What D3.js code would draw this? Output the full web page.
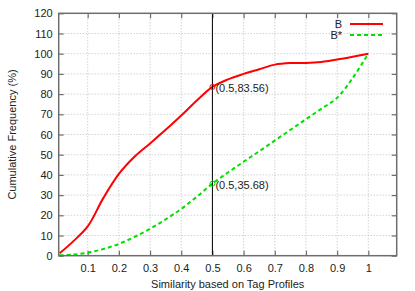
<!DOCTYPE html>
<html>
<head>
<meta charset="utf-8">
<script src="https://cdn.jsdelivr.net/npm/d3@7"></script>
<style>
  body { margin: 0; background: #fff; }
  svg text { font-family: "Liberation Sans", Arial, sans-serif; font-size: 11px; fill: #222; }
</style>
</head>
<body>
<svg class="cdf" width="415" height="291"></svg>
<script>
// Cumulative frequency of similarity for B and B*
var xValues = [0.01, 0.05, 0.1, 0.15, 0.2, 0.25, 0.3, 0.35, 0.4, 0.45, 0.5, 0.55, 0.6, 0.65, 0.7, 0.75, 0.8, 0.85, 0.9, 0.95, 1.0];
var seriesB = [1.2, 6.6, 14.5, 28.5, 40.5, 49, 55.6, 62.3, 69.4, 76.8, 83.56, 87.3, 90, 92.3, 94.6, 95.4, 95.4, 95.9, 97.1, 98.5, 100];
var seriesBStar = [0.2, 0.5, 1.5, 3.3, 5.8, 9.3, 13.3, 18, 23.2, 29.2, 35.68, 41.2, 46.5, 51.7, 57, 62.3, 67.6, 72.8, 78.2, 88, 100];
var xTicks = [0.1, 0.2, 0.3, 0.4, 0.5, 0.6, 0.7, 0.8, 0.9, 1];
var yTicks = [0, 10, 20, 30, 40, 50, 60, 70, 80, 90, 100, 110, 120];
var marks = [{x: 0.5, y: 83.56, label: "(0.5,83.56)", color: "#ff0000"},
             {x: 0.5, y: 35.68, label: "(0.5,35.68)", color: "#00e000"}];

var svg = d3.select("svg.cdf"),
    margin = {top: 13.3, right: 18.3, bottom: 35.3, left: 58.7},
    width = svg.attr("width") - margin.left - margin.right,
    height = svg.attr("height") - margin.top - margin.bottom;
var g = svg.append("g").attr("transform", "translate(" + margin.left + "," + margin.top + ")");

var x = d3.scaleLinear().domain([0.007, 1.091]).range([0, width]);
var y = d3.scaleLinear().domain([0, 120]).range([height, 0]);

var colorB = "#ff0000",
    colorBStar = "#00e000",
    frameColor = "#6e6e6e";

// grid
g.selectAll("line.gx").data(xTicks).enter().append("line")
    .attr("x1", function(d) { return x(d); }).attr("x2", function(d) { return x(d); })
    .attr("y1", 0).attr("y2", height)
    .attr("stroke", "#b0b0b0").attr("stroke-width", 0.8).attr("stroke-dasharray", "1,2");
g.selectAll("line.gy").data(yTicks.slice(1, -1)).enter().append("line")
    .attr("x1", 0).attr("x2", width)
    .attr("y1", function(d) { return y(d); }).attr("y2", function(d) { return y(d); })
    .attr("stroke", "#b0b0b0").attr("stroke-width", 0.8).attr("stroke-dasharray", "1,2");

// axes (ticks inward, mirrored)
var xAxis = d3.axisBottom(x).tickValues(xTicks).tickSize(-5).tickPadding(9).tickFormat(d3.format("~g"));
var xTop = d3.axisTop(x).tickValues(xTicks).tickSize(-5).tickFormat("");
var yAxis = d3.axisLeft(y).tickValues(yTicks).tickSize(-5).tickPadding(6);
var yRight = d3.axisRight(y).tickValues(yTicks).tickSize(-5).tickFormat("");

function styleAxis(sel) {
    sel.select(".domain").remove();
    sel.selectAll(".tick line").attr("stroke", frameColor).attr("stroke-width", 1.2);
    sel.selectAll(".tick text").attr("fill", "#222").attr("font-size", "11px")
        .attr("font-family", "Liberation Sans, Arial, sans-serif");
}
g.append("g").attr("transform", "translate(0," + height + ")").call(xAxis).call(styleAxis);
g.append("g").call(xTop).call(styleAxis);
g.append("g").call(yAxis).call(styleAxis);
g.append("g").attr("transform", "translate(" + width + ",0)").call(yRight).call(styleAxis);

// curves
var line = d3.line().curve(d3.curveCatmullRom.alpha(0.5))
    .x(function(d) { return x(d[0]); })
    .y(function(d) { return y(d[1]); });

g.append("path")
    .attr("d", line(d3.zip(xValues, seriesBStar)))
    .attr("fill", "none").attr("stroke", colorBStar).attr("stroke-width", 2).attr("stroke-dasharray", "4,3");
g.append("path")
    .attr("d", line(d3.zip(xValues, seriesB)))
    .attr("fill", "none").attr("stroke", colorB).attr("stroke-width", 2);

// vertical marker at 0.5
g.append("line")
    .attr("x1", x(0.5)).attr("x2", x(0.5)).attr("y1", 0).attr("y2", height)
    .attr("stroke", "#000").attr("stroke-width", 1);

g.selectAll("circle.pt").data(marks).enter().append("circle")
    .attr("cx", function(d) { return x(d.x); })
    .attr("cy", function(d) { return y(d.y); })
    .attr("r", 2.5).attr("fill", "none")
    .attr("stroke", function(d) { return d.color; }).attr("stroke-width", 1);
g.selectAll("text.pt").data(marks).enter().append("text")
    .attr("x", function(d) { return x(d.x) + 3; })
    .attr("y", function(d) { return y(d.y) + 5; })
    .text(function(d) { return d.label; });

// frame
g.append("rect")
    .attr("width", width).attr("height", height)
    .attr("fill", "none").attr("stroke", frameColor).attr("stroke-width", 1.5);

// axis labels
svg.append("text")
    .attr("x", margin.left + width / 2).attr("y", 288)
    .attr("text-anchor", "middle")
    .text("Similarity based on Tag Profiles");
svg.append("text")
    .attr("transform", "translate(16," + (margin.top + height / 2) + ") rotate(-90)")
    .attr("text-anchor", "middle")
    .text("Cumulative Frequency (%)");

// legend
var legendData = [{txt: "B", color: colorB, dash: null},
                  {txt: "B*", color: colorBStar, dash: "4,3"}];
var legend = svg.append("g").attr("class", "legend");
legend.selectAll("text").data(legendData).enter().append("text")
    .attr("x", 342).attr("y", function(d, i) { return 28 + i * 11; })
    .attr("text-anchor", "end")
    .text(function(d) { return d.txt; });
legend.selectAll("line").data(legendData).enter().append("line")
    .attr("x1", 350).attr("x2", 383)
    .attr("y1", function(d, i) { return 24 + i * 11; })
    .attr("y2", function(d, i) { return 24 + i * 11; })
    .attr("stroke", function(d) { return d.color; })
    .attr("stroke-width", 2)
    .attr("stroke-dasharray", function(d) { return d.dash; });
</script>
</body>
</html>
